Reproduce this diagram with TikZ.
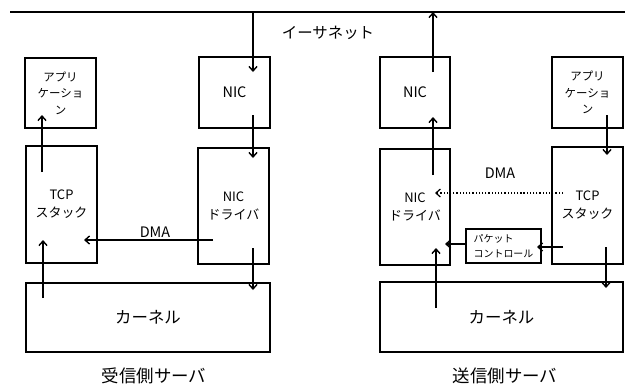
\documentclass[tikz,border=0pt]{standalone}
\usepackage{fontspec}
\setmainfont{Noto Sans CJK JP}
\usetikzlibrary{arrows.meta}
\begin{document}
\begin{tikzpicture}[x=1bp,y=-1bp,
  box/.style={draw,line width=1.6bp,inner sep=0pt,align=center},
  arr/.style={line width=1.4bp,-{Straight Barb[length=4.5bp,width=8bp]}},
  darr/.style={line width=1.2bp,dotted,-{Straight Barb[length=4.5bp,width=8bp]}},
  appf/.style={font=\fontsize{11.5}{16.5}\selectfont},
  stkf/.style={font=\fontsize{13}{18}\selectfont},
  nicf/.style={font=\fontsize{14.5}{17}\selectfont},
  kerf/.style={font=\fontsize{16.5}{19}\selectfont},
  pktf/.style={font=\fontsize{10}{15}\selectfont},
  lbl/.style={inner sep=0pt},
]
\useasboundingbox (0,0) rectangle (625,385);
% ethernet line
\coordinate (eL) at (10,12);
\coordinate (eR) at (625,12);
\draw[line width=1.8bp] (eL) -- (eR);
\node[lbl,font=\fontsize{15.5}{18}\selectfont] (eth) at (328,33) {イーサネット};

% left (receiver)
\node[box,appf,minimum width=71bp,minimum height=70bp] (appL) at (60.5,93) {アプリ\\ケーショ\\ン};
\node[box,nicf,minimum width=71bp,minimum height=71bp] (nicL) at (234.5,92.5) {NIC};
\node[box,stkf,minimum width=71bp,minimum height=117bp] (tcpL) at (61.5,204.5) {TCP\\スタック};
\node[box,stkf,minimum width=71bp,minimum height=116bp] (drvL) at (233.5,206) {NIC\\ドライバ};
\node[box,kerf,minimum width=244bp,minimum height=69bp] (kerL) at (148,317.5) {カーネル};
\node[lbl,nicf] (dmaL) at (155,232) {DMA};
\node[lbl,font=\fontsize{17.5}{20}\selectfont] (titL) at (154,376) {受信側サーバ};

% right (sender)
\node[box,nicf,minimum width=70bp,minimum height=71bp] (nicR) at (415,92.5) {NIC};
\node[box,appf,minimum width=71bp,minimum height=71bp] (appR) at (587.5,92.5) {アプリ\\ケーショ\\ン};
\node[box,stkf,minimum width=70bp,minimum height=116bp] (drvR) at (415,207) {NIC\\ドライバ};
\node[box,stkf,minimum width=71bp,minimum height=117bp] (tcpR) at (587.5,205.5) {TCP\\スタック};
\node[box,pktf,align=left,minimum width=75bp,minimum height=34bp] (pktR) at (503.5,246) {パケット\\コントロール};
\node[box,kerf,minimum width=243bp,minimum height=70bp] (kerR) at (501.5,317) {カーネル};
\node[lbl,nicf] (dmaR) at (500,173) {DMA};
\node[lbl,font=\fontsize{17.5}{20}\selectfont] (titR) at (505,376) {送信側サーバ};

% arrow end points
\coordinate (a1s) at (253,12);  \coordinate (a1e) at (253,72);
\coordinate (a2s) at (253,115); \coordinate (a2e) at (253,158);
\coordinate (a3s) at (42,172);  \coordinate (a3e) at (42,115);
\coordinate (a4s) at (43,298);  \coordinate (a4e) at (43,240);
\coordinate (a5s) at (213,240); \coordinate (a5e) at (84,240);
\coordinate (a6s) at (253,248); \coordinate (a6e) at (253,290);
\coordinate (b1s) at (433,72);  \coordinate (b1e) at (433,12);
\coordinate (b2s) at (607,115); \coordinate (b2e) at (607,155);
\coordinate (b3s) at (433,175); \coordinate (b3e) at (433,117);
\coordinate (b4s) at (563,193); \coordinate (b4e) at (435,193);
\coordinate (b5s) at (563,247); \coordinate (b5e) at (537,247);
\coordinate (b6s) at (466,244); \coordinate (b6e) at (445,244);
\coordinate (b7s) at (436,308); \coordinate (b7e) at (436,248);
\coordinate (b8s) at (606,247); \coordinate (b8e) at (606,288);

\draw[arr] (a1s) -- (a1e);
\draw[arr] (a2s) -- (a2e);
\draw[arr] (a3s) -- (a3e);
\draw[arr] (a4s) -- (a4e);
\draw[arr] (a5s) -- (a5e);
\draw[arr] (a6s) -- (a6e);
\draw[arr] (b1s) -- (b1e);
\draw[arr] (b2s) -- (b2e);
\draw[arr] (b3s) -- (b3e);
\draw[darr] (b4s) -- (b4e);
\draw[arr] (b5s) -- (b5e);
\draw[arr] (b6s) -- (b6e);
\draw[arr] (b7s) -- (b7e);
\draw[arr] (b8s) -- (b8e);
\end{tikzpicture}
\end{document}
